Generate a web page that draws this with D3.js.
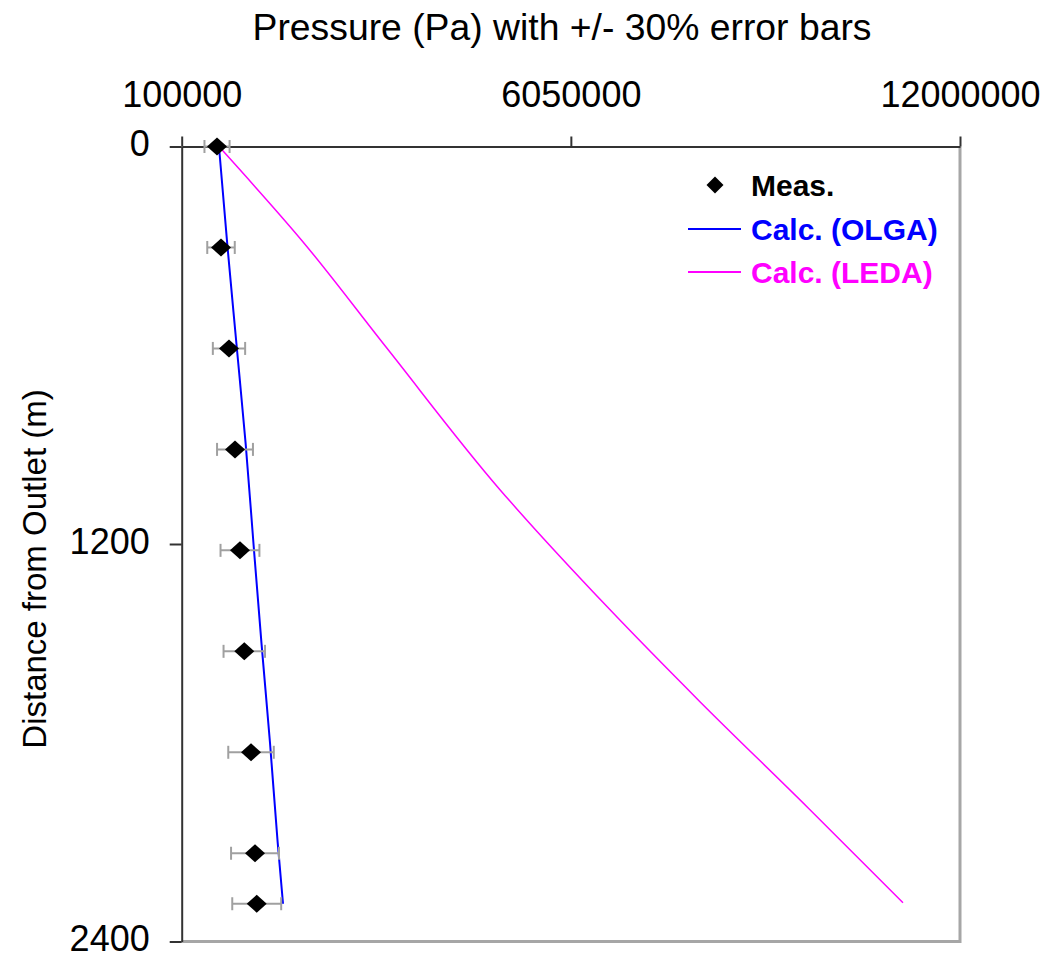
<!DOCTYPE html>
<html>
<head>
<meta charset="utf-8">
<script src="https://cdn.jsdelivr.net/npm/d3@7"></script>
<style>
  body { margin: 0; background: #fff; }
  svg { font-family: "Liberation Sans", Arial, sans-serif; }
  .axis text { font-size: 36px; fill: #000; }
  .axis path, .axis line { stroke: #333; stroke-width: 2; }
</style>
</head>
<body>
<div id="chart"></div>
<script>
// distances are in metres (measured every 1000 ft)
var measDist = [0, 304.8, 609.6, 914.4, 1219.2, 1524, 1828.8, 2133.6, 2286];
var measPres = [640000, 701000, 823000, 915000, 991000, 1057000, 1160000, 1221000, 1247000];

var olgaDist = [0, 300, 600, 900, 1200, 1500, 1800, 2100, 2286];
var olgaPres = [670000, 799000, 939000, 1079000, 1198000, 1320000, 1450000, 1567000, 1649000];

var ledaDist = [0, 282, 607, 1036, 1392, 1676, 1996, 2283];
var ledaPres = [670000, 1930000, 3230000, 4966000, 6617000, 8024000, 9675000, 11128000];

var xTicks = [100000, 6050000, 12000000];
var yTicks = [0, 1200, 2400];
var errFrac = 0.3;

var W = 1054, H = 959;
var margin = {top: 146.5, right: 94, bottom: 17.5, left: 181.7};
var width = W - margin.left - margin.right,
    height = H - margin.top - margin.bottom;

var svg = d3.select("#chart").append("svg")
    .attr("width", W)
    .attr("height", H);

var g = svg.append("g")
    .attr("transform", "translate(" + margin.left + "," + margin.top + ")");

var x = d3.scaleLinear().domain([100000, 12000000]).range([0, width]);
var y = d3.scaleLinear().domain([0, 2400]).range([0, height]);

// plot area border (right + bottom are grey)
g.append("path")
    .attr("d", "M" + width + ",0V" + height + "H0")
    .attr("fill", "none")
    .attr("stroke", "#a6a6a6")
    .attr("stroke-width", 3);

g.append("g")
    .attr("class", "axis")
    .call(d3.axisTop(x).tickValues(xTicks).tickSizeInner(10).tickSizeOuter(0)
        .tickPadding(30).tickFormat(d3.format("d")));

g.append("g")
    .attr("class", "axis yaxis")
    .call(d3.axisLeft(y).tickValues(yTicks).tickSizeInner(12).tickSizeOuter(0)
        .tickPadding(20).tickFormat(d3.format("d")));

g.selectAll(".yaxis text").attr("dy", "0.25em");
g.selectAll(".axis .domain").attr("stroke", "#333");

var line = d3.line()
    .curve(d3.curveMonotoneY)
    .x(function (d) { return x(d[1]); })
    .y(function (d) { return y(d[0]); });

var ledaData = d3.zip(ledaDist, ledaPres);
var olgaData = d3.zip(olgaDist, olgaPres);
var measData = d3.zip(measDist, measPres);

g.append("path")
    .datum(ledaData)
    .attr("d", line)
    .attr("fill", "none")
    .attr("stroke", "#ff00ff")
    .attr("stroke-width", 1.5);

g.append("path")
    .datum(olgaData)
    .attr("d", line)
    .attr("fill", "none")
    .attr("stroke", "#0000ff")
    .attr("stroke-width", 2);

// error bars
var err = g.selectAll(".err")
    .data(measData)
    .enter().append("g")
    .attr("class", "err")
    .attr("stroke", "#a0a0a0")
    .attr("stroke-width", 2);

err.append("line")
    .attr("x1", function (d) { return x(d[1] * (1 - errFrac)); })
    .attr("x2", function (d) { return x(d[1] * (1 + errFrac)); })
    .attr("y1", function (d) { return y(d[0]); })
    .attr("y2", function (d) { return y(d[0]); });

[1 - errFrac, 1 + errFrac].forEach(function (f) {
    err.append("line")
        .attr("x1", function (d) { return x(d[1] * f); })
        .attr("x2", function (d) { return x(d[1] * f); })
        .attr("y1", function (d) { return y(d[0]) - 6.5; })
        .attr("y2", function (d) { return y(d[0]) + 6.5; });
});

function diamond(w, h) {
    return "M0," + (-h) + "L" + w + ",0L0," + h + "L" + (-w) + ",0Z";
}

g.selectAll(".meas")
    .data(measData)
    .enter().append("path")
    .attr("class", "meas")
    .attr("d", diamond(10, 9))
    .attr("transform", function (d) {
        return "translate(" + x(d[1]) + "," + y(d[0]) + ")";
    })
    .attr("fill", "#000");

// titles
svg.append("text")
    .attr("x", 562)
    .attr("y", 40)
    .attr("text-anchor", "middle")
    .style("font-size", "36px")
    .attr("textLength", 619)
    .attr("lengthAdjust", "spacingAndGlyphs")
    .text("Pressure (Pa) with +/- 30% error bars");

svg.append("text")
    .attr("transform", "translate(46,569) rotate(-90)")
    .attr("text-anchor", "middle")
    .style("font-size", "33px")
    .text("Distance from Outlet (m)");

// legend
var legend = svg.append("g").attr("transform", "translate(688,0)");
var legendItems = [
    {label: "Meas.", color: "#000", type: "marker", y: 185},
    {label: "Calc. (OLGA)", color: "#0000ff", type: "line", y: 229},
    {label: "Calc. (LEDA)", color: "#ff00ff", type: "line", y: 272}
];

legendItems.forEach(function (it) {
    if (it.type === "marker") {
        legend.append("path")
            .attr("d", diamond(8.5, 8.5))
            .attr("transform", "translate(27," + it.y + ")")
            .attr("fill", "#000");
    } else {
        legend.append("line")
            .attr("x1", 0).attr("x2", 53)
            .attr("y1", it.y).attr("y2", it.y)
            .attr("stroke", it.color)
            .attr("stroke-width", 2);
    }
    legend.append("text")
        .attr("x", 63)
        .attr("y", it.y + 11)
        .style("font-size", "30px")
        .style("font-weight", "bold")
        .attr("fill", it.color)
        .text(it.label);
});
</script>
</body>
</html>
